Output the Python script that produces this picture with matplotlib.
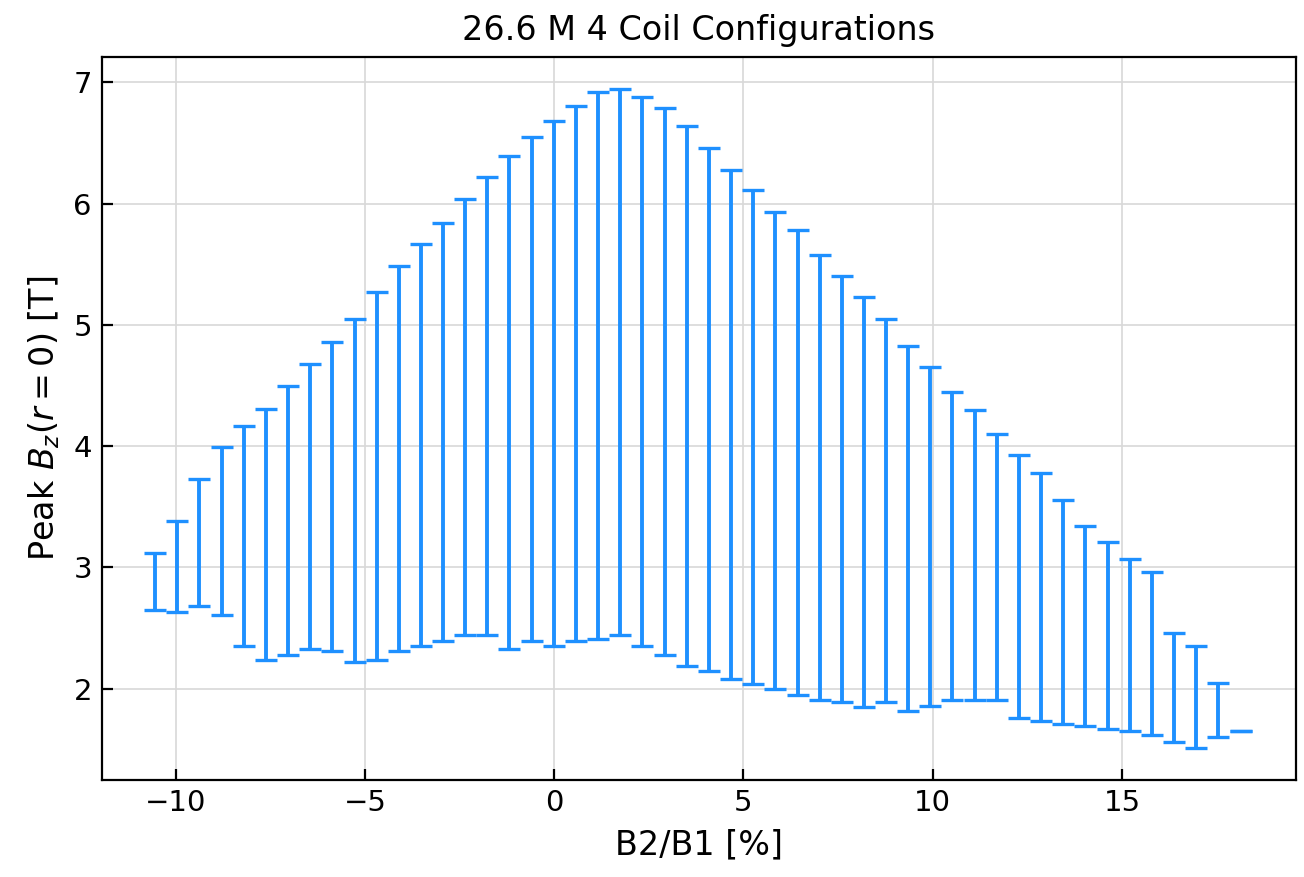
import matplotlib
matplotlib.use("Agg")
import matplotlib.pyplot as plt
import numpy as np

# B2/B1 ratio [%]
b2_b1 = [-10.54, -9.95, -9.37, -8.78, -8.20, -7.61, -7.03, -6.44, -5.86, -5.27,
         -4.69, -4.10, -3.52, -2.93, -2.35, -1.76, -1.18, -0.59, -0.01, 0.58,
         1.16, 1.75, 2.33, 2.92, 3.50, 4.09, 4.67, 5.26, 5.84, 6.43,
         7.01, 7.60, 8.18, 8.77, 9.35, 9.94, 10.52, 11.11, 11.69, 12.28,
         12.86, 13.45, 14.03, 14.62, 15.20, 15.79, 16.37, 16.96, 17.54, 18.13]

# Peak Bz(r=0) range [T]
bz_top = [3.12, 3.38, 3.73, 3.99, 4.17, 4.31, 4.50, 4.68, 4.86, 5.05,
          5.27, 5.49, 5.67, 5.84, 6.04, 6.22, 6.39, 6.55, 6.68, 6.81,
          6.92, 6.95, 6.88, 6.79, 6.64, 6.46, 6.28, 6.11, 5.93, 5.78,
          5.58, 5.40, 5.23, 5.05, 4.83, 4.65, 4.45, 4.30, 4.10, 3.93,
          3.78, 3.56, 3.34, 3.21, 3.07, 2.96, 2.46, 2.35, 2.05, 1.65]
bz_bottom = [2.65, 2.63, 2.68, 2.61, 2.35, 2.24, 2.28, 2.33, 2.31, 2.22,
             2.24, 2.31, 2.35, 2.39, 2.44, 2.44, 2.33, 2.39, 2.35, 2.39,
             2.41, 2.44, 2.35, 2.28, 2.19, 2.15, 2.08, 2.04, 2.00, 1.95,
             1.91, 1.89, 1.85, 1.89, 1.82, 1.86, 1.91, 1.91, 1.91, 1.76,
             1.73, 1.71, 1.69, 1.67, 1.65, 1.62, 1.56, 1.51, 1.60, 1.65]

x = np.array(b2_b1)
top = np.array(bz_top)
bot = np.array(bz_bottom)
mid = (top + bot) / 2
half = (top - bot) / 2

fig = plt.figure(figsize=(6.52, 4.385), dpi=200)
ax = fig.add_axes([0.078, 0.111, 0.916, 0.824])

ax.errorbar(x, mid, yerr=half, fmt='none', ecolor='dodgerblue',
            elinewidth=1.4, capsize=3.9, capthick=1.2, zorder=3)

ax.set_xlim(-11.95, 19.6)
ax.set_ylim(1.25, 7.21)
ax.set_xticks([-10, -5, 0, 5, 10, 15])
ax.set_yticks([2, 3, 4, 5, 6, 7])
ax.grid(True, color='#d8d8d8', linewidth=0.6)
ax.set_axisbelow(True)
ax.tick_params(direction='in', labelsize=10.5, length=4, width=0.8)
for s in ax.spines.values():
    s.set_linewidth(0.8)

ax.set_title('26.6 M 4 Coil Configurations', fontsize=12)
ax.set_xlabel('B2/B1 [%]', fontsize=12)
ax.set_ylabel(r'Peak $B_z(r = 0)$ [T]', fontsize=12)

fig.savefig('out.png', dpi=200)
